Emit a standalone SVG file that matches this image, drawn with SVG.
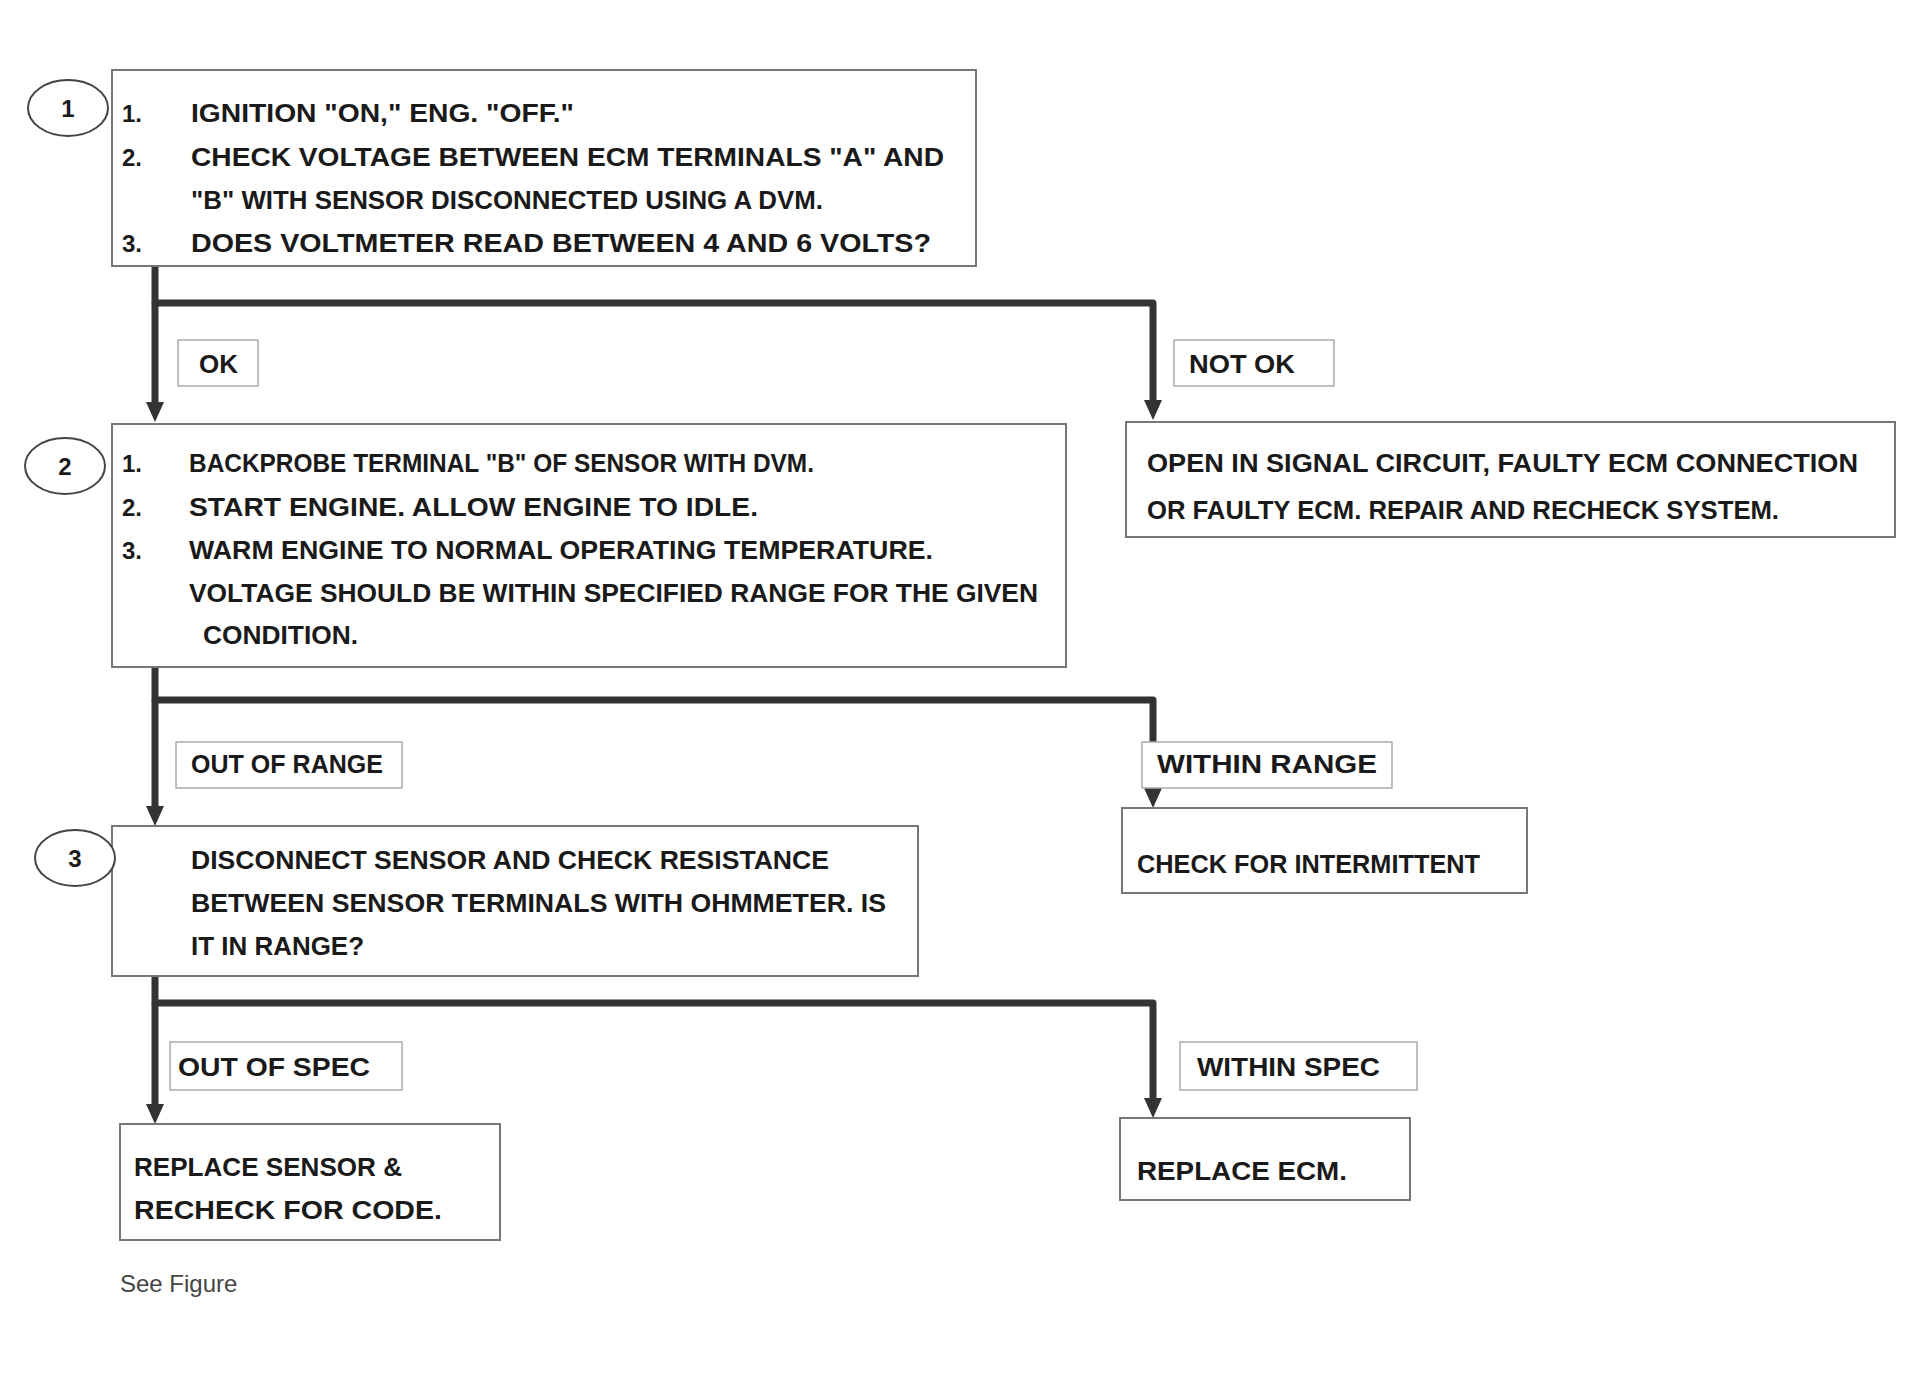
<svg xmlns="http://www.w3.org/2000/svg" width="1925" height="1375" viewBox="0 0 1925 1375">
<defs>
<marker id="arr" markerUnits="userSpaceOnUse" markerWidth="22" markerHeight="20" refX="4" refY="9" orient="auto">
<path d="M0,0 L20,9 L0,18 z" fill="#333"/>
</marker>
<style>
.box{fill:#fff;stroke:#777;stroke-width:2}
.lab{fill:#fff;stroke:#aaa;stroke-width:1.5}
.t{font-family:"Liberation Sans",Arial,sans-serif;font-weight:bold;font-size:26px;fill:#1a1a1a}
.num{font-family:"Liberation Sans",Arial,sans-serif;font-weight:bold;font-size:24px;fill:#1a1a1a}
.cap{font-family:"Liberation Sans",Arial,sans-serif;font-size:24px;fill:#444}
.circ{fill:#fff;stroke:#444;stroke-width:2}
.ln{fill:none;stroke:#333;stroke-width:7;stroke-linejoin:round}
</style>
</defs>
<rect width="1925" height="1375" fill="#fff"/>

<g id="connectors">
<path class="ln" d="M155,266 V303 H1153 V404" marker-end="url(#arr)"/>
<path class="ln" d="M155,303 V406" marker-end="url(#arr)"/>
<path class="ln" d="M155,667 V700 H1153 V792" marker-end="url(#arr)"/>
<path class="ln" d="M155,700 V810" marker-end="url(#arr)"/>
<path class="ln" d="M155,976 V1003 H1153 V1102" marker-end="url(#arr)"/>
<path class="ln" d="M155,1003 V1108" marker-end="url(#arr)"/>
</g>

<g id="step1">
<rect class="box" x="112" y="70" width="864" height="196"/>
<ellipse class="circ" cx="68" cy="108" rx="40" ry="28"/>
<text class="num" x="68" y="117" text-anchor="middle">1</text>
<text class="num" x="122" y="122">1.</text>
<text class="num" x="122" y="166">2.</text>
<text class="num" x="122" y="252">3.</text>
<text class="t" x="191" y="122" textLength="383" lengthAdjust="spacingAndGlyphs">IGNITION "ON," ENG. "OFF."</text>
<text class="t" x="191" y="166" textLength="753" lengthAdjust="spacingAndGlyphs">CHECK VOLTAGE BETWEEN ECM TERMINALS "A" AND</text>
<text class="t" x="191" y="209" textLength="632" lengthAdjust="spacingAndGlyphs">"B" WITH SENSOR DISCONNECTED USING A DVM.</text>
<text class="t" x="191" y="252" textLength="740" lengthAdjust="spacingAndGlyphs">DOES VOLTMETER READ BETWEEN 4 AND 6 VOLTS?</text>
</g>

<g id="label1L">
<rect class="lab" x="178" y="340" width="80" height="46"/>
<text class="t" x="199" y="373">OK</text>
</g>
<g id="label1R">
<rect class="lab" x="1174" y="340" width="160" height="46"/>
<text class="t" x="1189" y="373" textLength="106" lengthAdjust="spacingAndGlyphs">NOT OK</text>
</g>

<g id="step2">
<rect class="box" x="112" y="424" width="954" height="243"/>
<ellipse class="circ" cx="65" cy="466" rx="40" ry="28"/>
<text class="num" x="65" y="475" text-anchor="middle">2</text>
<text class="num" x="122" y="472">1.</text>
<text class="num" x="122" y="516">2.</text>
<text class="num" x="122" y="559">3.</text>
<text class="t" x="189" y="472" textLength="625" lengthAdjust="spacingAndGlyphs">BACKPROBE TERMINAL "B" OF SENSOR WITH DVM.</text>
<text class="t" x="189" y="516" textLength="569" lengthAdjust="spacingAndGlyphs">START ENGINE. ALLOW ENGINE TO IDLE.</text>
<text class="t" x="189" y="559" textLength="744" lengthAdjust="spacingAndGlyphs">WARM ENGINE TO NORMAL OPERATING TEMPERATURE.</text>
<text class="t" x="189" y="602" textLength="849" lengthAdjust="spacingAndGlyphs">VOLTAGE SHOULD BE WITHIN SPECIFIED RANGE FOR THE GIVEN</text>
<text class="t" x="203" y="644" textLength="155" lengthAdjust="spacingAndGlyphs">CONDITION.</text>
</g>

<g id="fault1">
<rect class="box" x="1126" y="422" width="769" height="115"/>
<text class="t" x="1147" y="472" textLength="711" lengthAdjust="spacingAndGlyphs">OPEN IN SIGNAL CIRCUIT, FAULTY ECM CONNECTION</text>
<text class="t" x="1147" y="519" textLength="632" lengthAdjust="spacingAndGlyphs">OR FAULTY ECM. REPAIR AND RECHECK SYSTEM.</text>
</g>

<g id="label2L">
<rect class="lab" x="176" y="742" width="226" height="46"/>
<text class="t" x="191" y="773" textLength="192" lengthAdjust="spacingAndGlyphs">OUT OF RANGE</text>
</g>
<g id="label2R">
<rect class="lab" x="1142" y="742" width="250" height="46"/>
<text class="t" x="1157" y="773" textLength="220" lengthAdjust="spacingAndGlyphs">WITHIN RANGE</text>
</g>

<g id="step3">
<rect class="box" x="112" y="826" width="806" height="150"/>
<ellipse class="circ" cx="75" cy="858" rx="40" ry="28"/>
<text class="num" x="75" y="867" text-anchor="middle">3</text>
<text class="t" x="191" y="869" textLength="638" lengthAdjust="spacingAndGlyphs">DISCONNECT SENSOR AND CHECK RESISTANCE</text>
<text class="t" x="191" y="912" textLength="695" lengthAdjust="spacingAndGlyphs">BETWEEN SENSOR TERMINALS WITH OHMMETER. IS</text>
<text class="t" x="191" y="955" textLength="173" lengthAdjust="spacingAndGlyphs">IT IN RANGE?</text>
</g>

<g id="fault2">
<rect class="box" x="1122" y="808" width="405" height="85"/>
<text class="t" x="1137" y="873" textLength="343" lengthAdjust="spacingAndGlyphs">CHECK FOR INTERMITTENT</text>
</g>

<g id="label3L">
<rect class="lab" x="170" y="1042" width="232" height="48"/>
<text class="t" x="178" y="1076" textLength="192" lengthAdjust="spacingAndGlyphs">OUT OF SPEC</text>
</g>
<g id="label3R">
<rect class="lab" x="1180" y="1042" width="237" height="48"/>
<text class="t" x="1197" y="1076" textLength="183" lengthAdjust="spacingAndGlyphs">WITHIN SPEC</text>
</g>

<g id="result1">
<rect class="box" x="120" y="1124" width="380" height="116"/>
<text class="t" x="134" y="1176" textLength="268" lengthAdjust="spacingAndGlyphs">REPLACE SENSOR &amp;</text>
<text class="t" x="134" y="1219" textLength="308" lengthAdjust="spacingAndGlyphs">RECHECK FOR CODE.</text>
</g>

<g id="result2">
<rect class="box" x="1120" y="1118" width="290" height="82"/>
<text class="t" x="1137" y="1180" textLength="210" lengthAdjust="spacingAndGlyphs">REPLACE ECM.</text>
</g>

<text class="cap" x="120" y="1292">See Figure</text>
</svg>
